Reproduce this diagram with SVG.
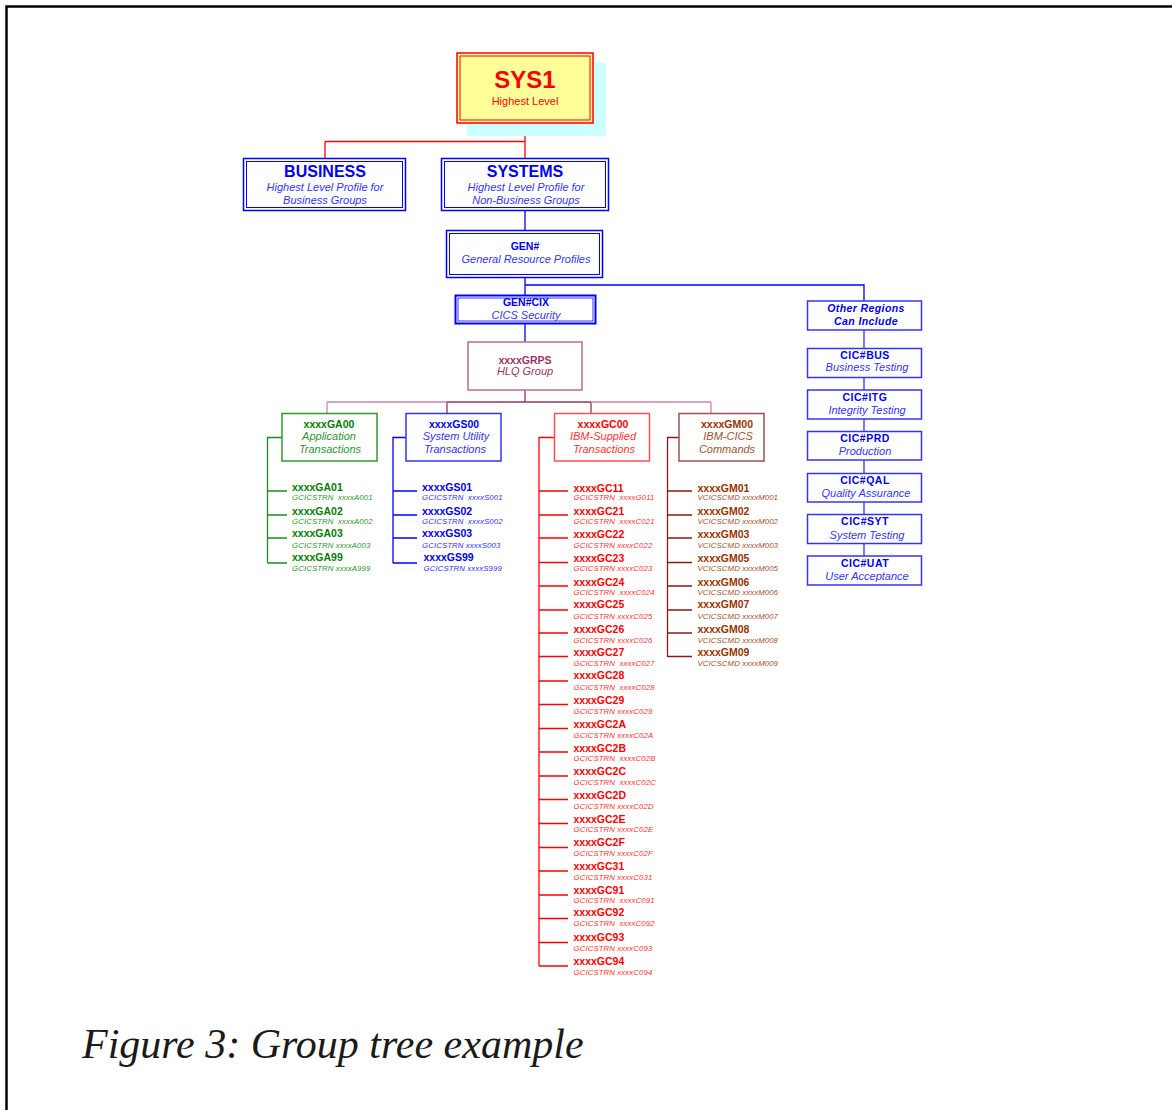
<svg xmlns="http://www.w3.org/2000/svg" width="1172" height="1110" viewBox="0 0 1172 1110">
<style>
text { font-family: "Liberation Sans", Arial, sans-serif; }
text.cap { font-family: "Liberation Serif", "Times New Roman", serif; font-style: italic; font-size: 42px; fill: #1a1a1a; }
.c { text-anchor: middle; }
.b { font-weight: bold; }
.i { font-style: italic; }
.s11 { font-size: 11px; }
.ct { font-size: 10.5px; font-weight: bold; }
.cs { font-size: 7.8px; font-style: italic; white-space: pre; letter-spacing: 0.1px; }
.blue { fill: #0000EE; }
.lblue { fill: #3333FF; }
.red { fill: #FF0000; }
.lred { fill: #FF3333; }
.grn { fill: #008000; }
.lgrn { fill: #2E962E; }
.brn { fill: #993300; }
.lbrn { fill: #A0522D; }
.mauve { fill: #993366; }
.dbl { fill: #FFFFFF; stroke: #0000FF; }
.box { fill: #FFFFFF; stroke-width: 1.5; }
.ln { fill: none; stroke-width: 1.3; }
</style>

<path d="M6.5,1110 V6.5 H1172" fill="none" stroke="#000" stroke-width="2.5"/>

<g id="connectors">
  <path class="ln" stroke="#FF0000" d="M525,123 V158 M325,141.5 H525 M325,141.5 V158"/>
  <path class="ln" stroke="#0000FF" d="M525,211 V230 M525,278 V295 M525,285 H864 V301 M525,323.5 V342"/>
  <path class="ln" stroke="#3333FF" d="M864,330 V348.5 M864,377.5 V390 M864,419 V431.5 M864,460 V473.5 M864,502 V514.5 M864,543.5 V556"/>
  <path class="ln" stroke="#993366" d="M525,390 V402 M447,402 H591 M447,402 V413.5 M591,402 V413.5"/>
  <path class="ln" stroke="#CC88AA" d="M327,402 H447 M591,402 H711 M327,402 V413.5 M711,402 V413.5"/>
  <path class="ln" stroke="#1E8C1E" d="M282,437.5 H267.5 V563 M267.5,491 H287 M267.5,515 H287 M267.5,538 H287 M267.5,563 H287"/>
  <path class="ln" stroke="#0000FF" d="M406,437.5 H393 V563 M393,491 H417 M393,515 H417 M393,538 H417 M393,563 H417"/>
  <path class="ln" stroke="#FF0000" d="M554.5,437.5 H539 V966 M539,491 H568 M539,515 H568 M539,538 H568 M539,562.5 H568 M539,586 H568 M539,610 H568 M539,633 H568 M539,656.5 H568 M539,681 H568 M539,704.5 H568 M539,728.5 H568 M539,752 H568 M539,776 H568 M539,799.5 H568 M539,823.5 H568 M539,847.5 H568 M539,871 H568 M539,895 H568 M539,918.5 H568 M539,942.5 H568 M539,966 H568"/>
  <path class="ln" stroke="#8B1A1A" d="M679,437.5 H667.5 V657 M667.5,491 H692 M667.5,515 H692 M667.5,538 H692 M667.5,562.5 H692 M667.5,586 H692 M667.5,610 H692 M667.5,633 H692 M667.5,656.5 H692"/>
</g>

<g id="SYS1">
  <rect x="467" y="63" width="139" height="73" fill="#CCFFFF"/>
  <rect x="457" y="53" width="136" height="70" fill="#FFFF99" stroke="#FF0000" stroke-width="1.5"/>
  <rect x="460" y="56" width="130" height="64" fill="none" stroke="#FF0000" stroke-width="1"/>
  <text x="525" y="88" class="c b red" font-size="24">SYS1</text>
  <text x="525" y="105" class="c s11 red">Highest Level</text>
</g>

<g id="BUSINESS">
  <rect x="243.5" y="158.5" width="162" height="52" class="dbl" stroke-width="1.5"/>
  <rect x="246.5" y="161.5" width="156" height="46" class="dbl" stroke-width="1"/>
  <text x="325" y="177" class="c b blue" font-size="16">BUSINESS</text>
  <text x="325" y="191" class="c i s11 lblue">Highest Level Profile for</text>
  <text x="325" y="204" class="c i s11 lblue">Business Groups</text>
</g>

<g id="SYSTEMS">
  <rect x="441.5" y="158.5" width="167" height="52" class="dbl" stroke-width="1.5"/>
  <rect x="444.5" y="161.5" width="161" height="46" class="dbl" stroke-width="1"/>
  <text x="525" y="177" class="c b blue" font-size="16">SYSTEMS</text>
  <text x="526" y="191" class="c i s11 lblue">Highest Level Profile for</text>
  <text x="526" y="204" class="c i s11 lblue">Non-Business Groups</text>
</g>

<g id="GEN">
  <rect x="446.5" y="230.5" width="156" height="47" class="dbl" stroke-width="1.5"/>
  <rect x="449.5" y="233.5" width="150" height="41" class="dbl" stroke-width="1"/>
  <text x="525" y="250" class="c ct blue">GEN#</text>
  <text x="526" y="263" class="c i s11 lblue">General Resource Profiles</text>
</g>

<g id="GENCIX">
  <rect x="455.5" y="295.5" width="140" height="28" class="dbl" stroke-width="2"/>
  <rect x="458" y="298" width="135" height="23" class="dbl" stroke-width="0.8"/>
  <text x="526" y="306" class="c ct blue">GEN#CIX</text>
  <text x="526" y="318.5" class="c i s11 lblue">CICS Security</text>
</g>

<g id="xxxxGRPS">
  <rect x="468" y="342" width="114" height="48" class="box" stroke="#B86E94"/>
  <text x="525" y="363.5" class="c ct mauve">xxxxGRPS</text>
  <text x="525" y="375" class="c i s11 mauve">HLQ Group</text>
</g>

<g id="xxxxGA00">
  <rect x="282" y="413.5" width="95" height="47.5" class="box" stroke="#339933"/>
  <text x="329" y="427.5" class="c ct grn">xxxxGA00</text>
  <text x="329" y="440" class="c i s11 lgrn">Application</text>
  <text x="330" y="452.5" class="c i s11 lgrn">Transactions</text>
</g>
<g id="xxxxGS00">
  <rect x="406" y="413.5" width="95" height="47.5" class="box" stroke="#3333FF"/>
  <text x="454" y="427.5" class="c ct blue">xxxxGS00</text>
  <text x="456" y="440" class="c i s11 lblue">System Utility</text>
  <text x="455" y="452.5" class="c i s11 lblue">Transactions</text>
</g>
<g id="xxxxGC00">
  <rect x="554.5" y="413.5" width="95" height="47.5" class="box" stroke="#FF5050"/>
  <text x="603" y="427.5" class="c ct red">xxxxGC00</text>
  <text x="603" y="440" class="c i s11 lred">IBM-Supplied</text>
  <text x="604" y="452.5" class="c i s11 lred">Transactions</text>
</g>
<g id="xxxxGM00">
  <rect x="679" y="413.5" width="85" height="47.5" class="box" stroke="#A05050"/>
  <text x="727" y="427.5" class="c ct brn">xxxxGM00</text>
  <text x="728" y="440" class="c i s11 lbrn">IBM-CICS</text>
  <text x="727" y="452.5" class="c i s11 lbrn">Commands</text>
</g>

<g id="GA-children">
  <g id="xxxxGA01"><text x="292" y="491" class="ct grn">xxxxGA01</text><text x="292" y="500" class="cs lgrn">GCICSTRN  xxxxA001</text></g>
  <g id="xxxxGA02"><text x="292" y="515" class="ct grn">xxxxGA02</text><text x="292" y="524" class="cs lgrn">GCICSTRN  xxxxA002</text></g>
  <g id="xxxxGA03"><text x="292" y="537" class="ct grn">xxxxGA03</text><text x="292" y="548" class="cs lgrn">GCICSTRN xxxxA003</text></g>
  <g id="xxxxGA99"><text x="292" y="561" class="ct grn">xxxxGA99</text><text x="292" y="570.5" class="cs lgrn">GCICSTRN xxxxA999</text></g>
</g>

<g id="GS-children">
  <g id="xxxxGS01"><text x="422" y="491" class="ct blue">xxxxGS01</text><text x="422" y="500" class="cs lblue">GCICSTRN  xxxxS001</text></g>
  <g id="xxxxGS02"><text x="422" y="515" class="ct blue">xxxxGS02</text><text x="422" y="524" class="cs lblue">GCICSTRN  xxxxS002</text></g>
  <g id="xxxxGS03"><text x="422" y="537" class="ct blue">xxxxGS03</text><text x="422" y="548" class="cs lblue">GCICSTRN xxxxS003</text></g>
  <g id="xxxxGS99"><text x="423.5" y="561" class="ct blue">xxxxGS99</text><text x="423.5" y="570.5" class="cs lblue">GCICSTRN xxxxS999</text></g>
</g>

<g id="GC-children">
  <g id="xxxxGC11"><text x="573.5" y="491.5" class="ct red">xxxxGC11</text><text x="573.5" y="500" class="cs lred">GCICSTRN  xxxxG011</text></g>
  <g id="xxxxGC21"><text x="573.5" y="515" class="ct red">xxxxGC21</text><text x="573.5" y="523.5" class="cs lred">GCICSTRN  xxxxC021</text></g>
  <g id="xxxxGC22"><text x="573.5" y="537.5" class="ct red">xxxxGC22</text><text x="573.5" y="547.5" class="cs lred">GCICSTRN xxxxC022</text></g>
  <g id="xxxxGC23"><text x="573.5" y="561.5" class="ct red">xxxxGC23</text><text x="573.5" y="570.5" class="cs lred">GCICSTRN xxxxC023</text></g>
  <g id="xxxxGC24"><text x="573.5" y="586" class="ct red">xxxxGC24</text><text x="573.5" y="595" class="cs lred">GCICSTRN  xxxxC024</text></g>
  <g id="xxxxGC25"><text x="573.5" y="608" class="ct red">xxxxGC25</text><text x="573.5" y="618.5" class="cs lred">GCICSTRN xxxxC025</text></g>
  <g id="xxxxGC26"><text x="573.5" y="632.5" class="ct red">xxxxGC26</text><text x="573.5" y="642.5" class="cs lred">GCICSTRN xxxxC026</text></g>
  <g id="xxxxGC27"><text x="573.5" y="656" class="ct red">xxxxGC27</text><text x="573.5" y="665.5" class="cs lred">GCICSTRN  xxxxC027</text></g>
  <g id="xxxxGC28"><text x="573.5" y="679" class="ct red">xxxxGC28</text><text x="573.5" y="689.5" class="cs lred">GCICSTRN  xxxxC028</text></g>
  <g id="xxxxGC29"><text x="573.5" y="703.5" class="ct red">xxxxGC29</text><text x="573.5" y="713.5" class="cs lred">GCICSTRN xxxxC029</text></g>
  <g id="xxxxGC2A"><text x="573.5" y="727.5" class="ct red">xxxxGC2A</text><text x="573.5" y="738" class="cs lred">GCICSTRN xxxxC02A</text></g>
  <g id="xxxxGC2B"><text x="573.5" y="751.5" class="ct red">xxxxGC2B</text><text x="573.5" y="760.5" class="cs lred">GCICSTRN  xxxxC02B</text></g>
  <g id="xxxxGC2C"><text x="573.5" y="774.5" class="ct red">xxxxGC2C</text><text x="573.5" y="784.5" class="cs lred">GCICSTRN  xxxxC02C</text></g>
  <g id="xxxxGC2D"><text x="573.5" y="798.5" class="ct red">xxxxGC2D</text><text x="573.5" y="809" class="cs lred">GCICSTRN xxxxC02D</text></g>
  <g id="xxxxGC2E"><text x="573.5" y="822.5" class="ct red">xxxxGC2E</text><text x="573.5" y="831.5" class="cs lred">GCICSTRN xxxxC02E</text></g>
  <g id="xxxxGC2F"><text x="573.5" y="845.5" class="ct red">xxxxGC2F</text><text x="573.5" y="855.5" class="cs lred">GCICSTRN xxxxC02F</text></g>
  <g id="xxxxGC31"><text x="573.5" y="869.5" class="ct red">xxxxGC31</text><text x="573.5" y="880" class="cs lred">GCICSTRN xxxxC031</text></g>
  <g id="xxxxGC91"><text x="573.5" y="893.5" class="ct red">xxxxGC91</text><text x="573.5" y="903" class="cs lred">GCICSTRN  xxxxC091</text></g>
  <g id="xxxxGC92"><text x="573.5" y="915.5" class="ct red">xxxxGC92</text><text x="573.5" y="925.5" class="cs lred">GCICSTRN  xxxxC092</text></g>
  <g id="xxxxGC93"><text x="573.5" y="940.5" class="ct red">xxxxGC93</text><text x="573.5" y="951" class="cs lred">GCICSTRN xxxxC093</text></g>
  <g id="xxxxGC94"><text x="573.5" y="964.5" class="ct red">xxxxGC94</text><text x="573.5" y="975" class="cs lred">GCICSTRN xxxxC094</text></g>
</g>

<g id="GM-children">
  <g id="xxxxGM01"><text x="697.5" y="491.5" class="ct brn">xxxxGM01</text><text x="697.5" y="500" class="cs lbrn">VCICSCMD xxxxM001</text></g>
  <g id="xxxxGM02"><text x="697.5" y="515" class="ct brn">xxxxGM02</text><text x="697.5" y="523.5" class="cs lbrn">VCICSCMD xxxxM002</text></g>
  <g id="xxxxGM03"><text x="697.5" y="537.5" class="ct brn">xxxxGM03</text><text x="697.5" y="547.5" class="cs lbrn">VCICSCMD xxxxM003</text></g>
  <g id="xxxxGM05"><text x="697.5" y="561.5" class="ct brn">xxxxGM05</text><text x="697.5" y="570.5" class="cs lbrn">VCICSCMD xxxxM005</text></g>
  <g id="xxxxGM06"><text x="697.5" y="586" class="ct brn">xxxxGM06</text><text x="697.5" y="595" class="cs lbrn">VCICSCMD xxxxM006</text></g>
  <g id="xxxxGM07"><text x="697.5" y="608" class="ct brn">xxxxGM07</text><text x="697.5" y="618.5" class="cs lbrn">VCICSCMD xxxxM007</text></g>
  <g id="xxxxGM08"><text x="697.5" y="632.5" class="ct brn">xxxxGM08</text><text x="697.5" y="642.5" class="cs lbrn">VCICSCMD xxxxM008</text></g>
  <g id="xxxxGM09"><text x="697.5" y="656" class="ct brn">xxxxGM09</text><text x="697.5" y="665.5" class="cs lbrn">VCICSCMD xxxxM009</text></g>
</g>

<g id="OtherRegions">
  <rect x="807.5" y="301" width="114" height="29" class="box" stroke="#3333FF"/>
  <text x="866" y="312" class="c b i blue" font-size="10.5" letter-spacing="0.4">Other Regions</text>
  <text x="866" y="325" class="c b i blue" font-size="10.5" letter-spacing="0.4">Can Include</text>
</g>
<g id="CICBUS">
  <rect x="807.5" y="348.5" width="114" height="29" class="box" stroke="#3333FF"/>
  <text x="865" y="359" class="c b blue" font-size="10.5" letter-spacing="0.5">CIC#BUS</text>
  <text x="867" y="371" class="c i s11 lblue">Business Testing</text>
</g>
<g id="CICITG">
  <rect x="807.5" y="390" width="114" height="29" class="box" stroke="#3333FF"/>
  <text x="865" y="401" class="c b blue" font-size="10.5" letter-spacing="0.5">CIC#ITG</text>
  <text x="867" y="413.5" class="c i s11 lblue">Integrity Testing</text>
</g>
<g id="CICPRD">
  <rect x="807.5" y="431.5" width="114" height="28.5" class="box" stroke="#3333FF"/>
  <text x="865" y="442" class="c b blue" font-size="10.5" letter-spacing="0.5">CIC#PRD</text>
  <text x="865" y="455" class="c i s11 lblue">Production</text>
</g>
<g id="CICQAL">
  <rect x="807.5" y="473.5" width="114" height="28.5" class="box" stroke="#3333FF"/>
  <text x="865" y="484" class="c b blue" font-size="10.5" letter-spacing="0.5">CIC#QAL</text>
  <text x="866" y="497" class="c i s11 lblue">Quality Assurance</text>
</g>
<g id="CICSYT">
  <rect x="807.5" y="514.5" width="114" height="29" class="box" stroke="#3333FF"/>
  <text x="865" y="525" class="c b blue" font-size="10.5" letter-spacing="0.5">CIC#SYT</text>
  <text x="867" y="538.5" class="c i s11 lblue">System Testing</text>
</g>
<g id="CICUAT">
  <rect x="807.5" y="556" width="114" height="29" class="box" stroke="#3333FF"/>
  <text x="865" y="567" class="c b blue" font-size="10.5" letter-spacing="0.5">CIC#UAT</text>
  <text x="867" y="580" class="c i s11 lblue">User Acceptance</text>
</g>

<text x="82" y="1058" class="cap">Figure 3: Group tree example</text>
</svg>
